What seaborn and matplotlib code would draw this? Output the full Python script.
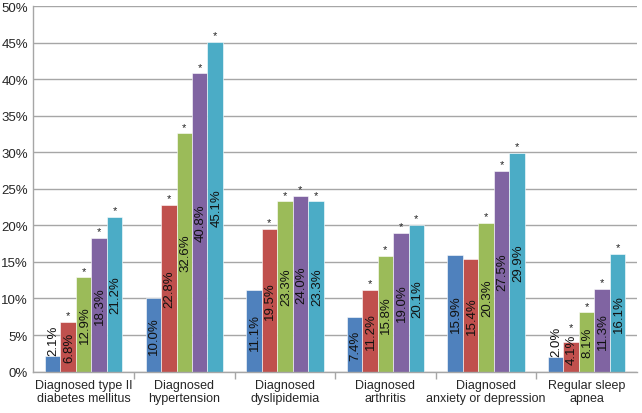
import pandas as pd
import seaborn as sns
import matplotlib.pyplot as plt
from matplotlib.ticker import FuncFormatter, FixedLocator

# 数据
categories = ['Diagnosed type II\ndiabetes mellitus', 'Diagnosed\nhypertension', 'Diagnosed\ndyslipidemia',
              'Diagnosed\narthritis', 'Diagnosed\nanxiety or depression', 'Regular sleep\napnea']
series = ['S1', 'S2', 'S3', 'S4', 'S5']
s1 = [2.1, 10.0, 11.1, 7.4, 15.9, 2.0]
s2 = [6.8, 22.8, 19.5, 11.2, 15.4, 4.1]
s3 = [12.9, 32.6, 23.3, 15.8, 20.3, 8.1]
s4 = [18.3, 40.8, 24.0, 19.0, 27.5, 11.3]
s5 = [21.2, 45.1, 23.3, 20.1, 29.9, 16.1]
# 显著性标记 (*)
s1_star = [0, 0, 0, 0, 0, 0]
s2_star = [1, 1, 1, 1, 0, 1]
s3_star = [1, 1, 1, 1, 1, 1]
s4_star = [1, 1, 1, 1, 1, 1]
s5_star = [1, 1, 1, 1, 1, 1]

colors = ['#4F81BD', '#C0504D', '#9BBB59', '#8064A2', '#4BACC6']

values = [s1, s2, s3, s4, s5]
stars = [s1_star, s2_star, s3_star, s4_star, s5_star]
rows = []
for name, vals, st in zip(series, values, stars):
    for c, v, s in zip(categories, vals, st):
        rows.append({'cat': c, 'series': name, 'value': v, 'star': s})
df = pd.DataFrame(rows)

sns.set_theme(style='white')
plt.rcParams['font.family'] = ['Liberation Sans', 'DejaVu Sans']

fig, ax = plt.subplots(figsize=(6.42, 4.14), dpi=100)
fig.subplots_adjust(left=0.052, right=0.992, top=0.983, bottom=0.1)

sns.barplot(data=df, x='cat', y='value', hue='series', palette=colors, width=0.77,
            saturation=1, edgecolor='white', linewidth=0.4, legend=False, ax=ax)

# 标签和星号
half = 2.1  # 竖排标签半长 (数据单位, 约)
for container, name in zip(ax.containers, series):
    sub = df[df['series'] == name].reset_index(drop=True)
    for bar, (_, r) in zip(container, sub.iterrows()):
        xc = bar.get_x() + bar.get_width() / 2
        h = bar.get_height()
        # 太矮的柱子: 标签放在柱子上方
        if h < 3:
            ly = h + 2.2
        else:
            ly = max(h / 2, 3.1)
        ax.text(xc + 0.01, ly, f'{r.value:.1f}%', rotation=90,
                ha='center', va='center', fontsize=9.5, color='#111111')
        if r.star:
            sy = max(h + 0.5, ly + half + 0.5)
            ax.text(xc, sy, '*', ha='center', va='baseline', fontsize=8, color='#222222')

ax.set_ylim(0, 50)
ax.set_xlim(-0.5, len(categories) - 0.5)
ax.yaxis.set_major_locator(FixedLocator(range(0, 51, 5)))
ax.yaxis.set_major_formatter(FuncFormatter(lambda v, p: f'{int(v)}%'))
ax.yaxis.grid(True, color='#A6A6A6', linewidth=1)
ax.set_axisbelow(True)
ax.set_xlabel('')
ax.set_ylabel('')
ax.tick_params(axis='y', labelsize=9.5, length=0, pad=4)
ax.tick_params(axis='x', which='major', labelsize=9, length=0, pad=5)
ax.set_xticks([i + 0.5 for i in range(len(categories) - 1)], minor=True)
ax.tick_params(axis='x', which='minor', length=5, color='#A6A6A6', width=1, direction='out')
ax.xaxis.set_ticks_position('bottom')

for side in ['top', 'right']:
    ax.spines[side].set_visible(False)
for side in ['left', 'bottom']:
    ax.spines[side].set_color('#A6A6A6')
    ax.spines[side].set_linewidth(1)

plt.savefig('out.png', dpi=100)
